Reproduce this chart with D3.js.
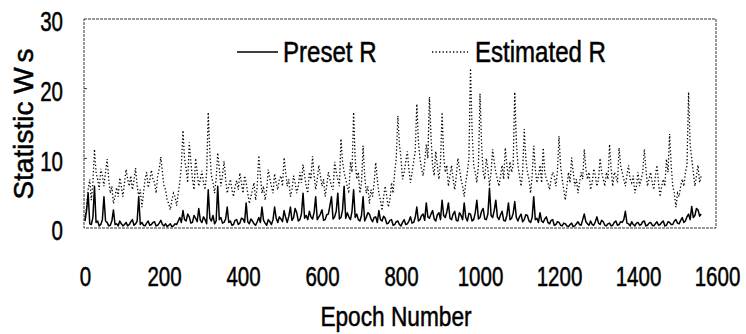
<!DOCTYPE html>
<html><head><meta charset="utf-8">
<script src="https://cdn.jsdelivr.net/npm/d3@7"></script>
<style>
html,body{margin:0;padding:0;background:#fff;}
svg{display:block;}
text{fill:#000;stroke:#000;stroke-width:0.5px;font-family:"Liberation Sans",Arial,sans-serif;}
</style></head><body>
<svg id="c" width="746" height="334"></svg>
<script>
// values sampled every 4 epochs (0 .. 1560)
const step = 4;
const estimatedR = [
1.5,3,5.5,7,4,6.5,11.3,8,7,5.5,8.5,7.5,6,8,9.9,7,5,6,3.5,4.5,5.8,4.5,7.2,6,4.5,6.5,8.4,7,6,7.5,5.5,6.8,8.6,6,4.5,5.5,3,5,7,8,
5.8,6.8,8.3,7,6.5,5,7.5,8.5,10.2,8,6,5.5,4,3.5,2.6,4,5,4.5,3.2,5,6.5,9,14,10,8.5,6.5,12.3,9.5,7,5.5,10,8,6,7,8.2,6.5,5.5,8,16.6,11,
7.5,6.5,5,7,10.8,8.5,6,7.5,9.6,7,5,6,7,5.5,4.5,6,6.8,5.5,7.9,6.5,5,7.5,6.5,5,3.5,4.5,5.5,6.5,4,6,10.4,7.5,5,6,4,5.5,8.4,7,6,5,
7.8,6.5,5.5,7,7.5,6,10.1,8,6,7,4.5,5.5,7.5,6.5,5,6,8,6.5,9.1,7.5,6,5,8,7,10.3,7.5,5.5,7,9,7.5,6,7,4.5,6,8,7,6,5.5,9.5,8,
7,6,12.8,9.5,8,7,6,5,9.5,8,16.6,10,7,8,5,6.5,11.8,7.5,5,6,3.5,5.5,4.5,6.5,9.4,7,5,4,2.5,4.5,6,4.5,3,4,6.5,5,8,10,16.1,12,
10,7,8,9.5,11,8.5,6.5,8,9.5,11,17.8,12.5,10,8.5,7.5,9.5,12,10,18.8,13,9,7.5,11,9,7,9.5,16.6,10.5,8,9,6,7.5,9,7,5.5,7.5,10,8.5,7,6,
4.5,6.5,8,10,22.9,14,9,8,6.5,9,19.3,12,8,7,10,8.5,6,8,11.3,9.5,8,7,6,7.5,9,7,11.5,9,7,9.5,8,9,19.5,12.5,9,7.5,6,8,14.2,10,
8,7,5,7.5,11.8,8.5,6.5,7.5,9,6.5,11.5,8,7,6.5,5.5,7,8,7.5,6,8,13.2,9,7,5.5,4,6,8,6.5,10.1,8,6,7,5,6.5,8,7,11.3,8.5,7,8,
5.5,6.5,8.5,7.5,6,7,10,8,7,6,8,7,12,8.5,6,8,7.5,6.5,11.5,9,8,7,6,7.5,9,7,6.5,7.5,5,6,8,6,7,8,11.3,8.5,6,7,8,6.5,
5.5,7.5,9,6.5,4.5,6,7,6,9.9,8,13.5,9,6,5,3,5,4.5,6,7,6,8,9,19.5,12,10,8,6,7.5,9,6.5,7.5
];
const presetR = [
1.0,2.5,5,0.6,0.5,1.5,6,0.8,1,0.3,0.5,1.2,4.5,1.0,0.8,0.3,0.4,1.0,2.6,0.5,0.6,0.3,1.0,0.6,0.3,0.5,0.8,0.3,0.5,0.9,1.2,0.4,0.6,1.0,4.5,0.5,0.8,0.4,0.3,0.7,
1.0,0.4,0.5,0.8,0.9,0.3,0.4,0.7,1.1,0.5,0.3,0.6,0.2,0.4,0.6,0.2,0.3,0.6,0.5,1.0,1.5,0.8,2.5,1.2,1.0,2.0,1.6,0.7,0.8,1.8,1.4,0.9,2.8,1.1,0.8,1.6,1.2,0.6,5.5,1.4,
1.0,1.8,0.6,1.0,6,1.2,1.5,0.7,0.8,1.3,3,0.8,1.0,0.4,0.5,1.1,1.2,0.5,0.7,1.4,1.3,0.8,3.6,0.9,0.6,1.3,1.0,0.6,0.4,0.9,1.5,0.8,3,1.1,0.7,0.4,1.2,0.9,0.5,1.2,
3,1.4,0.8,1.6,1.3,0.9,2.5,1.5,0.8,1.7,3,1.1,1.5,2.8,2.2,1.0,1.2,2.0,5,1.4,1.8,1.2,2.4,1.6,1.3,2.2,4.5,1.2,1.6,2.0,2.6,1.1,1.2,1.9,2.0,3.2,4.5,1.3,1.6,2.4,
5,1.3,1.5,2.6,6,1.4,2.2,1.6,1.2,2.4,5.5,1.5,2.0,1.2,1.0,1.8,4.5,1.0,1.5,2.2,2.0,1.3,0.9,1.5,1.6,0.8,2.5,1.2,1.0,1.7,1.4,0.6,0.7,1.1,1.2,0.4,0.5,0.9,1.0,0.5,
0.3,0.8,1.2,0.5,0.6,1.0,1.6,0.7,0.8,1.5,3,1.0,1.2,1.8,2.0,1.1,3.6,1.6,1.4,2.0,2.5,1.3,1.0,1.9,2.2,1.2,4,1.8,1.5,2.3,3.6,1.4,1.2,2.0,2.4,1.1,1.0,2.2,1.8,1.2,
3.6,1.5,1.0,2.1,2.0,1.0,1.2,2.2,4,1.3,1.5,2.4,2.8,1.3,1.2,2.0,5.7,1.8,1.5,2.5,4,1.6,1.2,1.9,2.4,1.1,1.0,1.8,3.6,1.2,1.4,2.1,3.8,1.5,1.0,1.6,2.0,0.9,1.2,1.9,
1.8,1.0,0.8,1.5,4.5,1.2,1.4,0.8,2.2,1.0,0.8,1.3,1.6,0.8,0.6,1.1,1.2,0.4,0.5,0.9,0.8,0.4,0.3,0.7,0.6,0.3,0.2,0.5,0.7,0.2,0.3,0.6,0.9,0.5,0.4,1.2,2.0,0.9,0.6,0.4,
1.0,0.5,0.4,0.9,1.6,0.7,0.5,1.1,0.9,0.4,0.3,0.6,0.7,0.3,0.4,0.8,1.0,0.4,0.5,0.9,0.8,1.2,2.4,0.7,0.6,0.3,0.9,0.5,0.3,0.7,0.8,0.4,0.5,0.9,1.0,0.3,0.4,0.7,0.8,0.4,
0.3,0.6,0.9,0.4,0.5,0.8,1.0,0.3,0.4,0.9,0.8,0.5,0.5,1.0,1.2,0.7,0.6,1.1,1.5,0.8,1.0,1.6,2.0,1.2,3.1,1.5,1.8,2.8,2.6,1.7,2.0
];
const xTicks = [0,200,400,600,800,1000,1200,1400,1600];
const yTicks = [0,10,20,30];
const seriesNames = ["Preset R","Estimated R"];
const xTitle = "Epoch Number";
const yTitleMain = "Statistic W", yTitleSub = "s";

const svg = d3.select("#c");
const L = 84, R = 716, T = 19, B = 228;
const x = d3.scaleLinear().domain([0,1600]).range([85,717]);
const y = d3.scaleLinear().domain([0,30]).range([B,T]);

// frame
svg.append("rect").attr("x",L).attr("y",T).attr("width",R-L).attr("height",B-T)
  .attr("fill","none").attr("stroke","#333").attr("stroke-width",1).attr("stroke-dasharray","3,1");
svg.append("g").selectAll("line").data(yTicks.slice(1,3)).join("line")
  .attr("x1",L).attr("x2",L+3).attr("y1",d=>y(d)).attr("y2",d=>y(d)).attr("stroke","#333");

// axes
const xAxis = svg.append("g").attr("transform",`translate(0,${B})`)
  .call(d3.axisBottom(x).tickValues(xTicks).tickSize(0).tickPadding(0).tickFormat(d3.format("d")));
xAxis.select(".domain").remove();
xAxis.selectAll("text").attr("font-size",27).attr("dy",null).attr("y",0)
  .attr("font-family",null).attr("transform","translate(0,58) scale(0.76,1)");

const yAxis = svg.append("g").attr("transform",`translate(63,0)`)
  .call(d3.axisLeft(y).tickValues(yTicks).tickSize(0).tickPadding(0).tickFormat(d3.format("d")));
yAxis.select(".domain").remove();
yAxis.selectAll("text").attr("font-size",27).attr("dy","0.36em").attr("x",0)
  .attr("font-family",null).attr("transform","translate(0,2) scale(0.76,1)");
xAxis.attr("font-family",null); yAxis.attr("font-family",null);

// series
const epochs = estimatedR.map((_,i)=>i*step);
const line = d3.line().x((d,i)=>x(epochs[i])).y(d=>y(d));
svg.append("path").datum(estimatedR).attr("d",line)
  .attr("fill","none").attr("stroke","#000").attr("stroke-width",1.3).attr("stroke-dasharray","1.3,2.2");
svg.append("path").datum(presetR).attr("d",line)
  .attr("fill","none").attr("stroke","#000").attr("stroke-width",1.5).attr("stroke-linejoin","round");

// legend
const lg = svg.append("g");
lg.append("line").attr("x1",237).attr("x2",278).attr("y1",52).attr("y2",52).attr("stroke","#000").attr("stroke-width",1.6);
lg.append("text").attr("transform","translate(283,62) scale(0.83,1)").attr("font-size",29).text(seriesNames[0]);
lg.append("line").attr("x1",432).attr("x2",468).attr("y1",52).attr("y2",52).attr("stroke","#000").attr("stroke-width",1.3).attr("stroke-dasharray","1.3,2.2");
lg.append("text").attr("transform","translate(475,62) scale(0.83,1)").attr("font-size",29).text(seriesNames[1]);

// titles
svg.append("text").attr("transform","translate(396,326) scale(0.81,1)").attr("text-anchor","middle").attr("font-size",28).text(xTitle);
const yt = svg.append("text").attr("transform","translate(33,124) rotate(-90)")
  .attr("text-anchor","middle").attr("font-size",28);
yt.append("tspan").text(yTitleMain);
yt.append("tspan").attr("dx",5).text(yTitleSub);
</script>
</body></html>
